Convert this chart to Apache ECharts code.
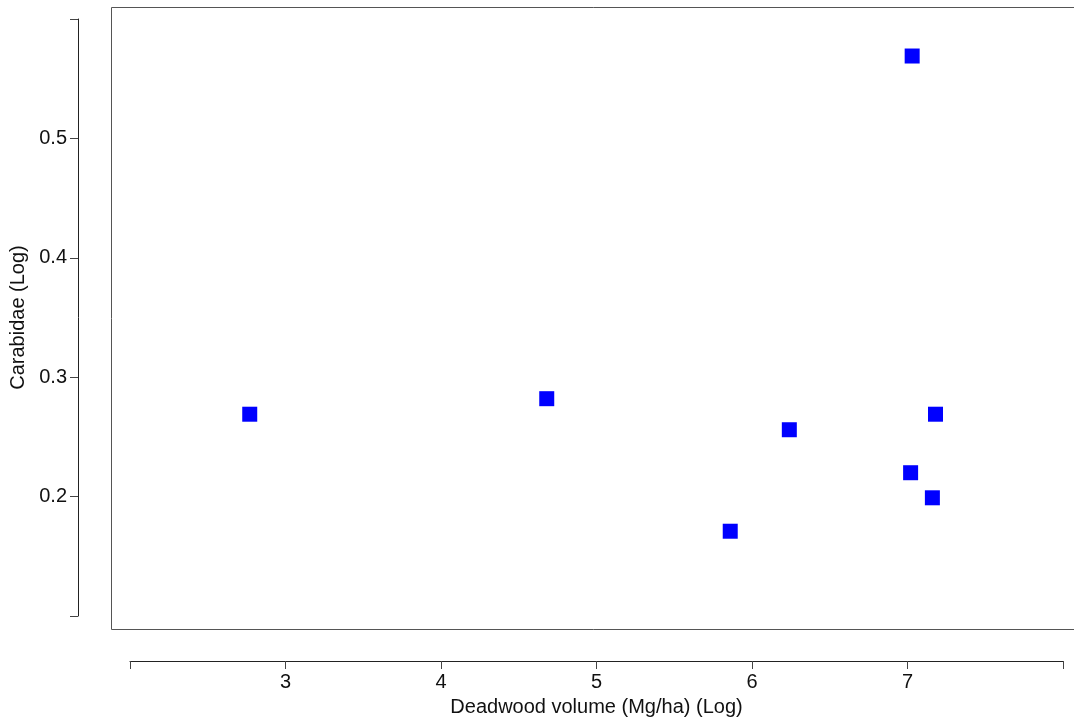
<!DOCTYPE html>
<html>
<head>
<meta charset="utf-8">
<script src="https://cdn.jsdelivr.net/npm/echarts@6/dist/echarts.min.js"></script>
<style>
    html, body { margin: 0; padding: 0; background: #fff; }
    #chart { width: 1074px; height: 722px; }
</style>
</head>
<body>
<div id="chart"></div>
<script>
// values
const deadwoodLog = [2.77, 4.68, 6.24, 7.18, 7.02, 7.16, 5.86, 7.03];
const carabidaeLog = [0.269, 0.282, 0.256, 0.269, 0.220, 0.199, 0.171, 0.569];

const xTicks = { min: 2, max: 8, step: 1 };
const yTicks = { min: 0.1, max: 0.6, step: 0.1 };

const points = deadwoodLog.map((x, i) => [x, carabidaeLog[i]]);

const chart = echarts.init(document.getElementById('chart'));

const font = 'Liberation Sans, Arial, sans-serif';

// end ticks are drawn but left without a label
function innerLabel(lo, hi, digits) {
    return v => (Math.abs(v - lo) < 1e-9 || Math.abs(v - hi) < 1e-9) ? '' : v.toFixed(digits);
}

chart.setOption({
    animation: false,
    grid: { left: 130, right: 11, top: 19, bottom: 105 },
    graphic: [{
        type: 'rect',
        silent: true,
        shape: { x: 111.5, y: 7.5, width: 1000, height: 622 },
        style: { fill: 'none', stroke: '#555', lineWidth: 1 }
    }],
    xAxis: {
        type: 'value',
        min: xTicks.min,
        max: xTicks.max,
        interval: xTicks.step,
        offset: 45,
        name: 'Deadwood volume (Mg/ha) (Log)',
        nameLocation: 'middle',
        nameGap: 36,
        nameTextStyle: { color: '#111', fontSize: 20, fontFamily: font },
        splitLine: { show: false },
        axisLine: { lineStyle: { color: '#222', width: 1 } },
        axisTick: { show: true, length: 8, lineStyle: { color: '#444', width: 1 } },
        axisLabel: {
            margin: 11,
            color: '#111',
            fontSize: 20,
            fontFamily: font,
            formatter: innerLabel(xTicks.min, xTicks.max, 0)
        }
    },
    yAxis: {
        type: 'value',
        min: yTicks.min,
        max: yTicks.max,
        interval: yTicks.step,
        offset: 52,
        name: 'Carabidae (Log)',
        nameLocation: 'middle',
        nameGap: 46,
        nameTextStyle: { color: '#111', fontSize: 20, fontFamily: font },
        splitLine: { show: false },
        axisLine: { show: true, lineStyle: { color: '#222', width: 1 } },
        axisTick: { show: true, length: 8, lineStyle: { color: '#444', width: 1 } },
        axisLabel: {
            margin: 11,
            color: '#111',
            fontSize: 20,
            fontFamily: font,
            formatter: innerLabel(yTicks.min, yTicks.max, 1)
        }
    },
    series: [{
        type: 'scatter',
        data: points,
        symbol: 'rect',
        symbolSize: 15,
        itemStyle: { color: '#0000ff', opacity: 1 }
    }]
});
</script>
</body>
</html>
